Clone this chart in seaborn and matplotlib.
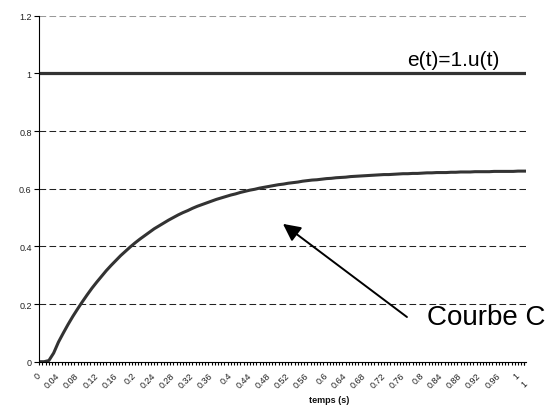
import numpy as np
import pandas as pd
import matplotlib
matplotlib.use("Agg")
import matplotlib.pyplot as plt
import matplotlib.transforms as mtransforms
from matplotlib.ticker import MultipleLocator
import seaborn as sns

# ---- data ----
t = np.round(np.arange(0, 1.03, 0.01), 2)          # temps (s)
s = [0, 0, 0.004, 0.030, 0.068, 0.099, 0.129, 0.157, 0.183, 0.208,
     0.232, 0.255, 0.276, 0.296, 0.316, 0.334, 0.351, 0.368, 0.383, 0.398,
     0.412, 0.425, 0.437, 0.449, 0.461, 0.471, 0.481, 0.491, 0.500, 0.509,
     0.517, 0.524, 0.532, 0.539, 0.545, 0.551, 0.557, 0.563, 0.568, 0.573,
     0.578, 0.582, 0.587, 0.591, 0.595, 0.598, 0.602, 0.605, 0.608, 0.611,
     0.614, 0.616, 0.619, 0.621, 0.623, 0.626, 0.628, 0.630, 0.631, 0.633,
     0.635, 0.636, 0.638, 0.639, 0.640, 0.642, 0.643, 0.644, 0.645, 0.646,
     0.647, 0.648, 0.649, 0.649, 0.650, 0.651, 0.652, 0.652, 0.653, 0.653,
     0.654, 0.655, 0.655, 0.656, 0.656, 0.656, 0.657, 0.657, 0.658, 0.658,
     0.658, 0.659, 0.659, 0.659, 0.659, 0.660, 0.660, 0.660, 0.660, 0.660,
     0.661, 0.661, 0.661]                            # Courbe C
e = [1.0] * len(t)                                   # e(t)=1.u(t)

xtick_pos = [0, 0.04, 0.08, 0.12, 0.16, 0.2, 0.24, 0.28, 0.32, 0.36, 0.4,
             0.44, 0.48, 0.52, 0.56, 0.6, 0.64, 0.68, 0.72, 0.76, 0.8, 0.84,
             0.88, 0.92, 0.96, 1.0, 1.0133]
xtick_labels = ["0", "0.04", "0.08", "0.12", "0.16", "0.2", "0.24", "0.28",
                "0.32", "0.36", "0.4", "0.44", "0.48", "0.52", "0.56", "0.6",
                "0.64", "0.68", "0.72", "0.76", "0.8", "0.84", "0.88", "0.92",
                "0.96", "1", "1"]
ytick_pos = [0, 0.2, 0.4, 0.6, 0.8, 1.0, 1.2]
ytick_labels = ["0", "0.2", "0.4", "0.6", "0.8", "1", "1.2"]

df = pd.DataFrame({"t": t, "s": s, "e": e})

sns.set_theme(style="white")
plt.rcParams['font.family'] = ['Liberation Sans', 'DejaVu Sans']

W, H = 552, 406
fig = plt.figure(figsize=(W / 100, H / 100), dpi=100)
x0, x1, y0, y1 = 39.3, 526.0, 362.7, 16.7
ax = fig.add_axes([x0 / W, (H - y0) / H, (x1 - x0) / W, (y0 - y1) / H])
ax.set_facecolor("white")

sns.lineplot(data=df, x="t", y="e", ax=ax, color="#333333", lw=2.3, zorder=3)
sns.lineplot(data=df, x="t", y="s", ax=ax, color="#333333", lw=2.2, zorder=3)

ax.set_xlim(0, 1.0167)
ax.set_ylim(0, 1.2)
ax.set_xlabel("")
ax.set_ylabel("")

# spines
for side in ["top", "right"]:
    ax.spines[side].set_visible(False)
for side in ["left", "bottom"]:
    ax.spines[side].set_color("black")
    ax.spines[side].set_linewidth(0.8)
    ax.spines[side].set_zorder(4)

# y axis
ax.set_yticks(ytick_pos)
ax.set_yticklabels(ytick_labels)
ax.tick_params(axis="y", direction="out", length=3.5, width=0.8, color="black",
               labelsize=6.5, labelcolor="#222222", pad=2, left=True)

# x axis
ax.set_xticks(xtick_pos)
ax.set_xticklabels(xtick_labels, rotation=45, ha="right", rotation_mode="anchor",
                   va="center")
ax.xaxis.set_minor_locator(MultipleLocator(1 / 150))
ax.tick_params(axis="x", which="both", direction="out", length=2.4, width=0.8,
               color="black", bottom=True)
ax.tick_params(axis="x", which="major", labelsize=6.5, labelcolor="#222222", pad=6)

last = ax.get_xticklabels()[-1]
last.set_transform(last.get_transform() +
                   mtransforms.ScaledTranslation(2 / 100, -8 / 100, fig.dpi_scale_trans))

# grid
ax.yaxis.grid(True, color="#222222", lw=0.75, linestyle=(0, (6.4, 3.2)))
ax.xaxis.grid(False)
ax.set_axisbelow(True)
for val, gl in zip(ytick_pos, ax.get_ygridlines()):
    if val == 1.2:
        gl.set_color("#999999")
    if val == 0:
        gl.set_visible(False)

# annotations
ax.text(0.768, 1.03, "e(t)=1.u(t)", fontsize=15, va="baseline", ha="left",
        color="black")
ax.text(0.81, 0.131, "Courbe C", fontsize=20, va="baseline", ha="left",
        color="black", clip_on=False)
ax.annotate("", xy=(0.509, 0.478), xytext=(0.768, 0.155),
            arrowprops=dict(arrowstyle="-|>,head_length=0.7,head_width=0.35",
                            color="black", lw=1.4, mutation_scale=15,
                            shrinkA=0, shrinkB=0))

fig.text(329 / W, 1 - 401 / H, "temps (s)", ha="center", va="center",
         fontsize=6.5, fontweight="bold", color="#111111")

fig.savefig("out.png", dpi=100)
